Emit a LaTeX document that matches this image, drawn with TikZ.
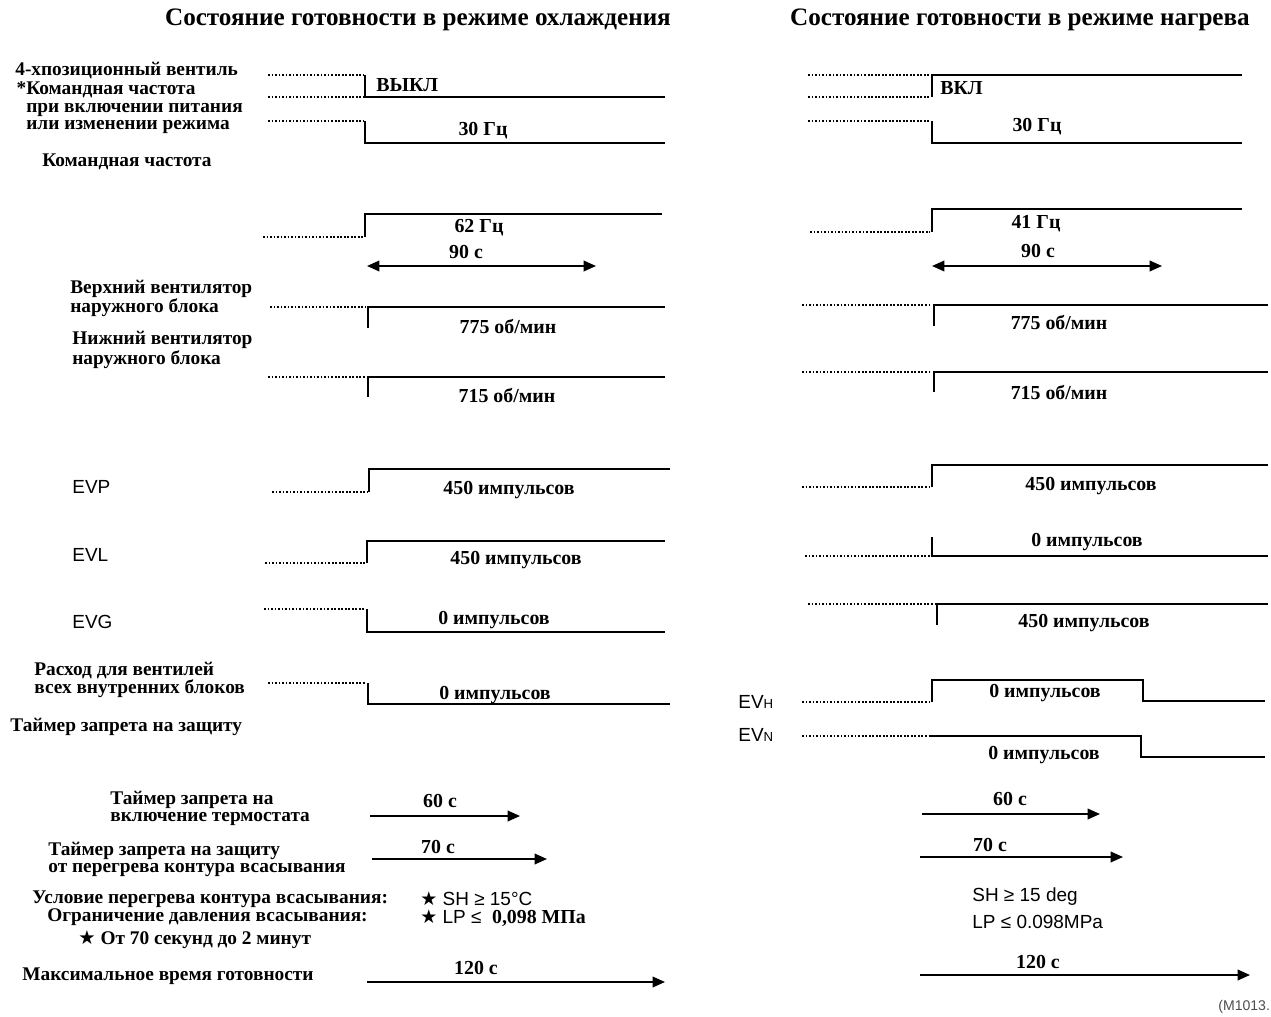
\documentclass[tikz,border=0pt]{standalone}
\usepackage{fontspec}
\setmainfont{Liberation Serif}
\newfontfamily\sansf{Liberation Sans}
\newfontfamily\symf{DejaVu Sans}
\usetikzlibrary{arrows.meta}

\begin{document}
\begin{tikzpicture}[x=0.02cm, y=-0.02cm,
  sig/.style={line width=1pt},
  pre/.style={line width=0.9pt, dash pattern=on 1pt off 1pt},
  arr/.style={line width=1pt, -{Triangle[length=7pt,width=6pt]}},
  darr/.style={line width=1pt, {Triangle[length=7pt,width=6pt]}-{Triangle[length=7pt,width=6pt]}},
  ttl/.style={font=\fontsize{14.3}{16}\selectfont\bfseries, inner sep=0pt},
  lbl/.style={font=\fontsize{11}{9.9}\selectfont\bfseries, anchor=west, inner sep=0pt, align=left},
  val/.style={font=\fontsize{11.3}{12}\selectfont\bfseries, inner sep=0pt},
  sf/.style={font=\fontsize{10.8}{12}\selectfont\sansf, anchor=west, inner sep=0pt}]
\useasboundingbox (0,0) rectangle (1271,1017);

\node[ttl] (tcool) at (418,20) {Состояние готовности в режиме охлаждения};
\node[ttl] (theat) at (1020,20) {Состояние готовности в режиме нагрева};

% labels, left column
\node[lbl] (l4way) at (15,71) {4-хпозиционный вентиль};
\node[lbl] (lcmdf) at (26,108) {\llap{*}Командная частота\\при включении питания\\или изменении режима};
\node[lbl] (lcmd) at (42,162) {Командная частота};
\node[lbl] (lfanu) at (70,298.5) {Верхний вентилятор\\наружного блока};
\node[lbl] (lfanl) at (72,350) {Нижний вентилятор\\наружного блока};
\node[sf] (levp) at (72,487) {EVP};
\node[sf] (levl) at (72,555) {EVL};
\node[sf] (levg) at (72,622) {EVG};
\node[lbl] (lflow) at (34,680) {Расход для вентилей\\всех внутренних блоков};
\node[lbl] (lprot) at (10,727) {Таймер запрета на защиту};
\node[lbl] (lthrm) at (110,808.5) {Таймер запрета на\\включение термостата};
\node[lbl] (lsuct) at (48,859.5) {Таймер запрета на защиту\\от перегрева контура всасывания};
\node[lbl] (lcnda) at (32,899) {Условие перегрева контура всасывания:};
\node[lbl] (lcndb) at (47,917) {Ограничение давления всасывания:};
\node[lbl] (lcndc) at (78,940) {{\symf ★} От 70 секунд до 2 минут};
\node[lbl] (lmax) at (22,976) {Максимальное время готовности};
\node[sf] (lsh) at (420,899) {{\symf ★} SH ≥ 15°C};
\node[sf] (llp) at (420,918) {{\symf ★} LP ≤ \ {\rmfamily\bfseries\fontsize{11.3}{12}\selectfont 0,098 МПа}};

% labels, right column
\node[sf] (levh) at (738,702) {EV{\fontsize{7.5}{8}\selectfont H}};
\node[sf] (levn) at (738,735) {EV{\fontsize{7.5}{8}\selectfont N}};
\node[sf] (rsh) at (972,897) {SH ≥ 15 deg};
\node[sf] (rlp) at (972,922) {LP ≤ 0.098MPa};
\node[sf, font=\fontsize{8}{9}\selectfont\sansf, text=black!70] (fig) at (1218,1007) {(M1013.};

% cooling
\draw[pre] (268,75) -- (363,75);
\draw[pre] (268,97) -- (363,97);
\draw[sig] (365,75) -- (365,97) -- (665,97);
\node[val, anchor=west] (coff) at (376,85) {ВЫКЛ};
\draw[pre] (268,121) -- (363,121);
\draw[sig] (365,121) -- (365,143) -- (665,143);
\node[val] (c30) at (483,131) {30 Гц};
\draw[pre] (263,237) -- (363,237);
\draw[sig] (365,237) -- (365,214) -- (662,214);
\node[val] (c62) at (479,228) {62 Гц};
\node[val] (c90) at (466,252) {90 с};
\draw[darr] (367,266) -- (596,266);
\draw[pre] (270,307) -- (366,307);
\draw[sig] (368,328) -- (368,307) -- (665,307);
\node[val] (cfan1) at (508,326) {775 об/мин};
\draw[pre] (268,377) -- (366,377);
\draw[sig] (368,397) -- (368,377) -- (665,377);
\node[val] (cfan2) at (507,395) {715 об/мин};
\draw[pre] (272,492) -- (367,492);
\draw[sig] (369,492) -- (369,469) -- (670,469);
\node[val] (cevp) at (509,490) {450 импульсов};
\draw[pre] (265,563) -- (365,563);
\draw[sig] (367,563) -- (367,541) -- (665,541);
\node[val] (cevl) at (516,560) {450 импульсов};
\draw[pre] (264,609) -- (365,609);
\draw[sig] (367,609) -- (367,632) -- (665,632);
\node[val] (cevg) at (494,620) {0 импульсов};
\draw[pre] (268,683) -- (366,683);
\draw[sig] (368,683) -- (368,704) -- (670,704);
\node[val] (cflw) at (495,695) {0 импульсов};
\draw[arr] (370,816) -- (520,816);
\node[val] (c60) at (440,801) {60 с};
\draw[arr] (372,859) -- (547,859);
\node[val] (c70) at (438,847) {70 с};
\draw[arr] (367,982) -- (665,982);
\node[val] (c120) at (476,968) {120 с};

% heating
\draw[pre] (808,75) -- (930,75);
\draw[pre] (808,97) -- (930,97);
\draw[sig] (932,97) -- (932,75) -- (1242,75);
\node[val, anchor=west] (hon) at (940,88) {ВКЛ};
\draw[pre] (808,121) -- (930,121);
\draw[sig] (932,121) -- (932,143) -- (1242,143);
\node[val] (h30) at (1037,127) {30 Гц};
\draw[pre] (810,232) -- (930,232);
\draw[sig] (932,232) -- (932,209) -- (1242,209);
\node[val] (h41) at (1036,224) {41 Гц};
\node[val] (h90) at (1038,251) {90 с};
\draw[darr] (932,266) -- (1162,266);
\draw[pre] (802,305) -- (932,305);
\draw[sig] (934,326) -- (934,305) -- (1268,305);
\node[val] (hfan1) at (1059,322) {775 об/мин};
\draw[pre] (802,372) -- (932,372);
\draw[sig] (934,392) -- (934,372) -- (1268,372);
\node[val] (hfan2) at (1059,392) {715 об/мин};
\draw[pre] (802,487) -- (930,487);
\draw[sig] (932,487) -- (932,465) -- (1268,465);
\node[val] (hevp) at (1091,486) {450 импульсов};
\draw[pre] (805,556) -- (930,556);
\draw[sig] (932,537) -- (932,556) -- (1268,556);
\node[val] (hevl) at (1087,542) {0 импульсов};
\draw[pre] (808,604) -- (936,604);
\draw[sig] (937,625) -- (937,604) -- (1268,604);
\node[val] (hevg) at (1084,623) {450 импульсов};
\draw[pre] (802,702) -- (930,702);
\draw[sig] (932,702) -- (932,680) -- (1143,680) -- (1143,701) -- (1265,701);
\node[val] (hevh) at (1045,693) {0 импульсов};
\draw[pre] (802,736) -- (930,736);
\draw[sig] (930,736) -- (1141,736) -- (1141,757) -- (1265,757);
\node[val] (hevn) at (1044,755) {0 импульсов};
\draw[arr] (922,814) -- (1100,814);
\node[val] (h60) at (1010,799) {60 с};
\draw[arr] (920,857) -- (1123,857);
\node[val] (h70) at (990,845) {70 с};
\draw[arr] (920,975) -- (1250,975);
\node[val] (h120) at (1038,962) {120 с};
\end{tikzpicture}
\end{document}
